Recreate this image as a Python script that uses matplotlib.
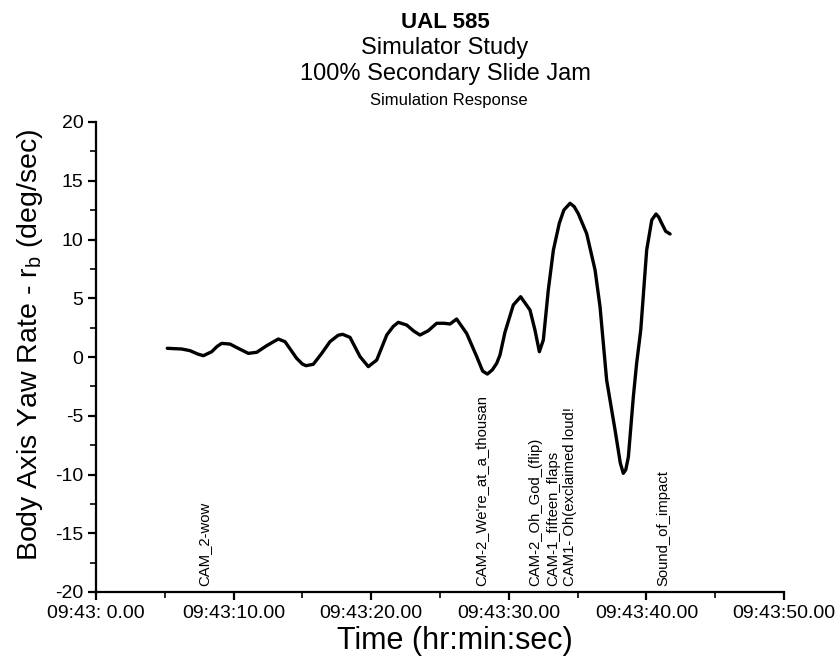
import numpy as np
import matplotlib
matplotlib.use("Agg")
import matplotlib.pyplot as plt
from matplotlib.ticker import MultipleLocator, FixedLocator, FixedFormatter
import matplotlib.transforms as mtransforms

plt.rcParams['font.family'] = ['Liberation Sans', 'DejaVu Sans']
plt.rcParams['axes.unicode_minus'] = False

# time in seconds after 09:43:00, yaw rate in deg/sec
time_s = [5.18, 6.23, 6.83, 7.40, 7.80, 8.41, 8.80, 9.13, 9.74, 10.4, 11.07,
          11.68, 12.40, 12.9, 13.25, 13.74, 14.58, 15.0, 15.26, 15.79, 16.4,
          17.0, 17.6, 17.93, 18.46, 19.19, 19.79, 20.4, 21.13, 21.6, 21.97,
          22.58, 23.1, 23.55, 24.15, 24.76, 25.3, 25.73, 26.21, 26.94, 27.67,
          28.1, 28.44, 28.8, 29.12, 29.36, 29.72, 30.33, 30.86, 31.54, 31.9,
          32.22, 32.51, 32.87, 33.24, 33.67, 34.0, 34.45, 34.75, 35.05, 35.66,
          36.27, 36.63, 37.11, 37.72, 38.1, 38.32, 38.5, 38.69, 39.05, 39.29,
          39.59, 40.02, 40.39, 40.70, 40.9, 41.11, 41.4, 41.72]
yaw_rate = [0.74, 0.68, 0.54, 0.25, 0.11, 0.45, 0.9, 1.16, 1.1, 0.7, 0.31,
            0.4, 0.96, 1.3, 1.53, 1.3, -0.11, -0.6, -0.74, -0.62, 0.3,
            1.3, 1.85, 1.93, 1.67, 0.03, -0.82, -0.26, 1.87, 2.6, 2.95,
            2.72, 2.2, 1.87, 2.24, 2.87, 2.87, 2.81, 3.23, 2.0, 0.03,
            -1.2, -1.45, -1.1, -0.54, 0.17, 2.1, 4.43, 5.13, 4.0, 2.3,
            0.45, 1.45, 5.7, 9.1, 11.38, 12.5, 13.08, 12.8, 12.2, 10.5,
            7.4, 4.28, -1.96, -6.2, -9.0, -9.9, -9.6, -8.5, -3.4, -0.54,
            2.3, 9.1, 11.66, 12.17, 11.9, 11.38, 10.7, 10.47]

event_times = [7.9, 28.0, 31.9, 33.2, 34.45, 41.2]
event_labels = ["CAM_2-wow", "CAM-2_We're_at_a_thousan", "CAM-2_Oh_God_(flip)",
                "CAM-1_fifteen_flaps", "CAM1- Oh(exclaimed loud!", "Sound_of_impact"]

xtick_pos = [0, 10, 20, 30, 40, 50]
xtick_labels = ["09:43: 0.00", "09:43:10.00", "09:43:20.00", "09:43:30.00",
                "09:43:40.00", "09:43:50.00"]
ytick_pos = [-20, -15, -10, -5, 0, 5, 10, 15, 20]

fig = plt.figure(figsize=(8.38, 6.66), dpi=100)
ax = fig.add_axes([96 / 838, 74 / 666, 688 / 838, 470 / 666])

ax.plot(time_s, yaw_rate, color='black', lw=2.4,
        solid_capstyle='round', solid_joinstyle='round')

ax.set_xlim(0, 50)
ax.set_ylim(-20, 20)
ax.xaxis.set_major_locator(FixedLocator(xtick_pos))
ax.xaxis.set_major_formatter(FixedFormatter(xtick_labels))
ax.xaxis.set_minor_locator(MultipleLocator(5))
ax.yaxis.set_major_locator(FixedLocator(ytick_pos))
ax.yaxis.set_minor_locator(MultipleLocator(2.5))

for side in ['top', 'right']:
    ax.spines[side].set_visible(False)
for side in ['left', 'bottom']:
    ax.spines[side].set_linewidth(1.6)

ax.tick_params(which='major', direction='out', length=6, width=1.6, labelsize=14, pad=3)
ax.tick_params(which='minor', direction='out', length=4, width=1.2)

# event markers, vertical text sitting on the time axis
trans = mtransforms.blended_transform_factory(ax.transData, ax.transAxes)
for t, lab in zip(event_times, event_labels):
    ax.text(t, 0.012, lab, rotation=90, ha='center', va='bottom',
            fontsize=10.7, transform=trans)

fig.text(445 / 838, 1 - 22 / 666, "UAL 585", ha='center', va='center',
         fontsize=16, fontweight='bold')
fig.text(445 / 838, 1 - 48 / 666, "Simulator Study", ha='center', va='center', fontsize=17)
fig.text(445 / 838, 1 - 74 / 666, "100% Secondary Slide Jam", ha='center', va='center', fontsize=17)
fig.text(449 / 838, 1 - 100 / 666, "Simulation Response", ha='center', va='center', fontsize=12)

fig.text(455 / 838, 1 - 641 / 666, "Time (hr:min:sec)", ha='center', va='center', fontsize=22)
fig.text(30 / 838, 1 - 345 / 666, r"Body Axis Yaw Rate - r$_\mathregular{b}$ (deg/sec)",
         ha='center', va='center', rotation=90, fontsize=20.5)

fig.savefig("out.png", dpi=100)
